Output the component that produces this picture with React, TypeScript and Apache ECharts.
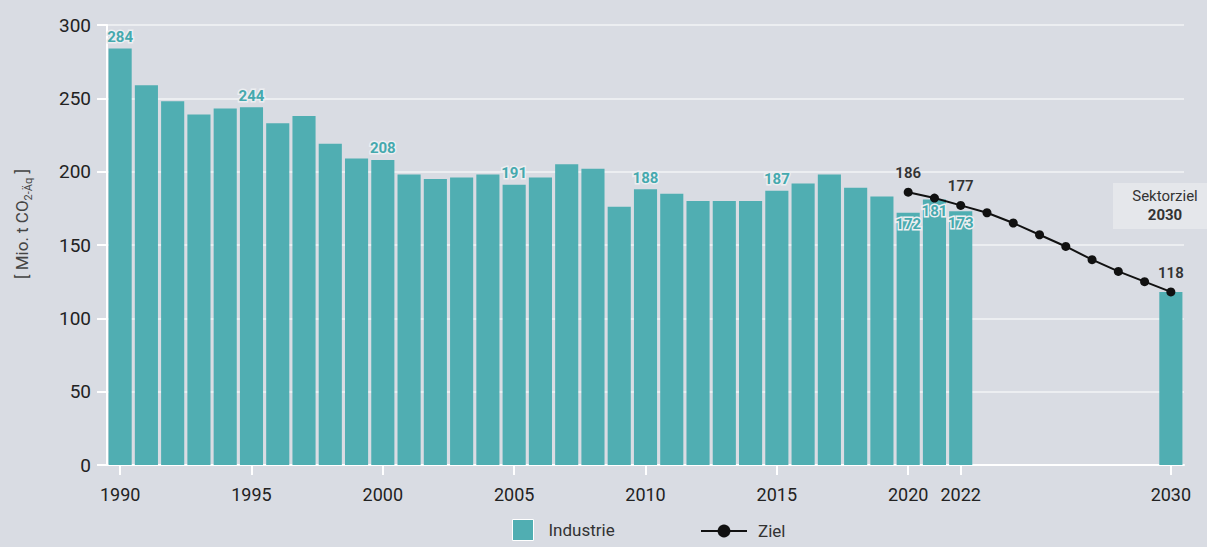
import React, { useEffect, useRef } from "react";
import * as echarts from "echarts";

const years = [
  "1990", "1991", "1992", "1993", "1994", "1995", "1996", "1997", "1998", "1999",
  "2000", "2001", "2002", "2003", "2004", "2005", "2006", "2007", "2008", "2009",
  "2010", "2011", "2012", "2013", "2014", "2015", "2016", "2017", "2018", "2019",
  "2020", "2021", "2022", "2023", "2024", "2025", "2026", "2027", "2028", "2029",
  "2030",
];

const industrie: (number | null)[] = [
  284, 259, 248, 239, 243, 244, 233, 238, 219, 209,
  208, 198, 195, 196, 198, 191, 196, 205, 202, 176,
  188, 185, 180, 180, 180, 187, 192, 198, 189, 183,
  172, 181, 173, null, null, null, null, null, null, null,
  118,
];

const ziel: (number | null)[] = [
  null, null, null, null, null, null, null, null, null, null,
  null, null, null, null, null, null, null, null, null, null,
  null, null, null, null, null, null, null, null, null, null,
  186, 182, 177, 172, 165, 157, 149, 140, 132, 125,
  118,
];

const tickYears = ["1990", "1995", "2000", "2005", "2010", "2015", "2020", "2022", "2030"];
const barTopLabelYears = ["1990", "1995", "2000", "2005", "2010", "2015"];
const barInsideLabelYears = ["2020", "2021", "2022"];
const zielLabelYears = ["2020", "2022", "2030"];

const TEAL = "#50aeb2";
const BG = "#d9dce3";
const FONT = "Roboto, 'Noto Sans', sans-serif";

export default function App() {
  const ref = useRef<HTMLDivElement>(null);

  useEffect(() => {
    if (!ref.current) return;
    const chart = echarts.init(ref.current, undefined, { renderer: "svg" });

    const labelBase = {
      show: true,
      color: "#45a9ae",
      fontFamily: FONT,
      fontWeight: "bold" as const,
      fontSize: 15,
      textBorderColor: "#eceef1",
      textBorderWidth: 3,
    };

    const barData = industrie.map((v, i) => {
      const y = years[i];
      if (barTopLabelYears.includes(y)) {
        return { value: v, label: { ...labelBase, position: "top", distance: 4 } };
      }
      if (barInsideLabelYears.includes(y)) {
        return { value: v, label: { ...labelBase, position: "insideTop", distance: 4 } };
      }
      return { value: v };
    });

    const zielData = ziel.map((v, i) => {
      const y = years[i];
      if (zielLabelYears.includes(y)) {
        return {
          value: v,
          label: {
            show: true,
            position: "top",
            distance: 7,
            color: "#333",
            fontFamily: FONT,
            fontWeight: 600,
            fontSize: 15,
          },
        };
      }
      return { value: v };
    });

    chart.setOption({
      animation: false,
      backgroundColor: BG,
      textStyle: { fontFamily: FONT },
      grid: { left: 107, right: 23, top: 25, bottom: 82, containLabel: false },
      legend: [
        {
          data: [{ name: "Industrie", icon: "rect" }],
          left: 512,
          top: 519,
          padding: 0,
          itemWidth: 21,
          itemHeight: 21,
          itemStyle: { borderColor: "#ffffff", borderWidth: 1 },
          textStyle: { color: "#333", fontSize: 17, lineHeight: 20, fontFamily: FONT, padding: [0, 0, 0, 10] },
          selectedMode: false,
        },
        {
          data: ["Ziel"],
          left: 700,
          top: 521,
          padding: 0,
          itemWidth: 46,
          itemHeight: 16,
          textStyle: { color: "#333", fontSize: 17, lineHeight: 20, fontFamily: FONT, padding: [0, 0, 0, 6] },
          selectedMode: false,
        },
      ],
      xAxis: {
        type: "category",
        data: years,
        boundaryGap: true,
        axisLine: { show: true, lineStyle: { color: "#ffffff", width: 2 } },
        axisTick: {
          show: true,
          alignWithLabel: true,
          length: 10,
          interval: (idx: number, val: string) => tickYears.includes(val),
          lineStyle: { color: "#ffffff", width: 2 },
        },
        axisLabel: {
          interval: (idx: number, val: string) => tickYears.includes(val),
          color: "#222",
          fontSize: 18,
          fontFamily: FONT,
          margin: 20,
        },
        splitLine: { show: false },
      },
      yAxis: {
        type: "value",
        min: 0,
        max: 300,
        interval: 50,
        axisLine: { show: true, lineStyle: { color: "#ffffff", width: 2 } },
        axisTick: { show: true, length: 10, lineStyle: { color: "#ffffff", width: 2 } },
        axisLabel: { color: "#222", fontSize: 19, fontFamily: FONT, margin: 16 },
        splitLine: { show: true, lineStyle: { color: "#eceef1", width: 2 } },
      },
      series: [
        {
          name: "Industrie",
          type: "bar",
          data: barData,
          barCategoryGap: "12%",
          itemStyle: { color: TEAL },
          z: 2,
        },
        {
          name: "Ziel",
          type: "line",
          data: zielData,
          connectNulls: false,
          symbol: "circle",
          symbolSize: 9,
          showAllSymbol: true,
          lineStyle: { color: "#111", width: 2 },
          itemStyle: { color: "#111" },
          z: 5,
        },
      ],
      graphic: [
        {
          type: "rect",
          left: 1113,
          top: 183,
          shape: { width: 94, height: 46 },
          style: { fill: "#e5e7eb" },
          z: 1,
        },
        {
          type: "text",
          x: 1165,
          y: 196,
          style: {
            text: "Sektorziel",
            align: "center",
            verticalAlign: "middle",
            fill: "#333",
            fontSize: 15,
            fontFamily: FONT,
          },
          z: 2,
        },
        {
          type: "text",
          x: 1165,
          y: 215,
          style: {
            text: "2030",
            align: "center",
            verticalAlign: "middle",
            fill: "#333",
            fontSize: 15,
            fontWeight: "bold",
            fontFamily: FONT,
          },
          z: 2,
        },
        {
          type: "text",
          x: 22,
          y: 224,
          rotation: Math.PI / 2,
          style: {
            text: "{a|[ Mio. t CO}{s|2-Äq}{a| ]}",
            align: "center",
            verticalAlign: "middle",
            fill: "#444",
            fontFamily: FONT,
            rich: {
              a: { fontSize: 17, lineHeight: 24, verticalAlign: "middle", fill: "#444", fontFamily: FONT },
              s: { fontSize: 11, lineHeight: 24, verticalAlign: "bottom", fill: "#444", fontFamily: FONT },
            },
          },
        },
      ],
    });

    return () => chart.dispose();
  }, []);

  return (
    <div
      ref={ref}
      style={{ position: "fixed", left: 0, top: 0, width: 1207, height: 547 }}
    />
  );
}
